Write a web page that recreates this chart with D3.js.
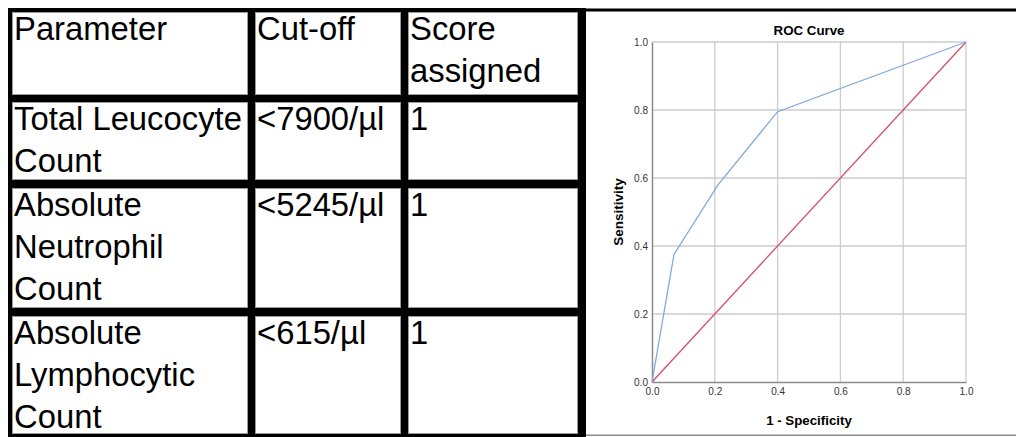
<!DOCTYPE html>
<html>
<head>
<meta charset="utf-8">
<script src="https://cdn.jsdelivr.net/npm/d3@7"></script>
<style>
    html, body { margin: 0; padding: 0; background: #fff; }
    svg { display: block; }
</style>
</head>
<body>
<script>
// table content
var headers = [['Parameter'], ['Cut-off'], ['Score', 'assigned']];
var parameters = [['Total Leucocyte', 'Count'], ['Absolute', 'Neutrophil', 'Count'], ['Absolute', 'Lymphocytic', 'Count']];
var cutoffs = ['<7900/\u00b5l', '<5245/\u00b5l', '<615/\u00b5l'];
var scores = ['1', '1', '1'];

// ROC curve values
var fpr = [0, 0.07, 0.21, 0.40, 1.0];
var tpr = [0, 0.375, 0.58, 0.795, 1.0];
var refFpr = [0, 1];
var refTpr = [0, 1];
var ticks = [0, 0.2, 0.4, 0.6, 0.8, 1.0];

var W = 1016, H = 437;

var svg = d3.select('body')
            .append('svg')
            .attr('width', W)
            .attr('height', H);

svg.append('rect').attr('width', W).attr('height', H).attr('fill', '#fff');

// ---- table ----
// vertical borders: [x, thickness]
var colLines = [[8, 4], [248, 7], [401, 7], [578, 8]];
// horizontal borders: [y, thickness]
var rowLines = [[8, 4], [95, 7], [180, 8], [308, 8], [434, 3]];
var textX = [14, 257, 410];
var lineH = 42;

var table = svg.append('g').attr('class', 'table');

// thin grey inner cell outlines
for (var r = 0; r < rowLines.length - 1; r++) {
    for (var c = 0; c < colLines.length - 1; c++) {
        var x0 = colLines[c][0] + colLines[c][1];
        var x1 = colLines[c + 1][0];
        var y0 = rowLines[r][0] + rowLines[r][1];
        var y1 = rowLines[r + 1][0];
        table.append('rect')
             .attr('x', x0 + 0.5).attr('y', y0 + 0.5)
             .attr('width', x1 - x0 - 1).attr('height', y1 - y0 - 1)
             .attr('fill', 'none')
             .attr('stroke', '#9a9a9a')
             .attr('stroke-width', 1);
    }
}

table.selectAll('rect.v')
     .data(colLines)
     .enter().append('rect')
     .attr('class', 'v')
     .attr('x', function (d) { return d[0]; })
     .attr('y', 8)
     .attr('width', function (d) { return d[1]; })
     .attr('height', H - 8)
     .attr('fill', '#000');

table.selectAll('rect.h')
     .data(rowLines)
     .enter().append('rect')
     .attr('class', 'h')
     .attr('x', 8)
     .attr('y', function (d) { return d[0]; })
     .attr('width', 578 + 8 - 8)
     .attr('height', function (d) { return d[1]; })
     .attr('fill', '#000');

// line across the top of the chart panel and the grey line at the bottom
svg.append('rect').attr('x', 586).attr('y', 8.5).attr('width', W - 586).attr('height', 3).attr('fill', '#000');
svg.append('rect').attr('x', 586).attr('y', 434.5).attr('width', W - 586).attr('height', 1.5).attr('fill', '#8c8c8c');

var rows = [headers].concat(parameters.map(function (p, i) {
    return [p, [cutoffs[i]], [scores[i]]];
}));

rows.forEach(function (row, r) {
    var top = rowLines[r][0] + rowLines[r][1];
    row.forEach(function (lines, c) {
        table.selectAll(null)
             .data(lines)
             .enter().append('text')
             .attr('x', textX[c])
             .attr('y', function (d, i) { return top + 28 + i * lineH; })
             .attr('font-family', 'Liberation Sans, Arial, sans-serif')
             .attr('font-size', 32.8)
             .attr('fill', '#000')
             .text(function (d) { return d; });
    });
});

// ---- ROC chart ----
var x = d3.scaleLinear().domain([0, 1]).range([652, 966]);
var y = d3.scaleLinear().domain([0, 1]).range([382, 42]);

var chart = svg.append('g').attr('class', 'chart');
var font = 'Liberation Sans, Arial, sans-serif';

chart.selectAll('line.gx')
     .data(ticks.slice(1))
     .enter().append('line')
     .attr('x1', function (d) { return x(d); })
     .attr('x2', function (d) { return x(d); })
     .attr('y1', y(0)).attr('y2', y(1))
     .attr('stroke', '#cdcdcd').attr('stroke-width', 1.3);

chart.selectAll('line.gy')
     .data(ticks.slice(1))
     .enter().append('line')
     .attr('y1', function (d) { return y(d); })
     .attr('y2', function (d) { return y(d); })
     .attr('x1', x(0)).attr('x2', x(1))
     .attr('stroke', '#cdcdcd').attr('stroke-width', 1.3);

var xAxis = d3.axisBottom(x).tickValues(ticks).tickSize(0).tickPadding(6).tickFormat(d3.format('.1f'));
var yAxis = d3.axisLeft(y).tickValues(ticks).tickSize(0).tickPadding(4).tickFormat(d3.format('.1f'));

var gx = chart.append('g').attr('transform', 'translate(0,' + y(0) + ')').call(xAxis);
var gy = chart.append('g').attr('transform', 'translate(' + x(0) + ',0)').call(yAxis);

[gx, gy].forEach(function (g) {
    g.select('.domain').attr('stroke', '#8a8a8a').attr('stroke-width', 1.5);
    g.selectAll('text').attr('font-family', font).attr('font-size', 10).attr('fill', '#333');
});

var line = d3.line()
             .x(function (d) { return x(d[0]); })
             .y(function (d) { return y(d[1]); });

chart.append('path')
     .datum(d3.zip(refFpr, refTpr))
     .attr('d', line)
     .attr('fill', 'none')
     .attr('stroke', '#d2506c')
     .attr('stroke-width', 1.3);

chart.append('path')
     .datum(d3.zip(fpr, tpr))
     .attr('d', line)
     .attr('fill', 'none')
     .attr('stroke', '#80a9de')
     .attr('stroke-width', 1.3);

chart.append('text')
     .attr('x', (x(0) + x(1)) / 2)
     .attr('y', 35)
     .attr('text-anchor', 'middle')
     .attr('font-family', font)
     .attr('font-weight', 'bold')
     .attr('font-size', 13.3)
     .text('ROC Curve');

chart.append('text')
     .attr('x', (x(0) + x(1)) / 2)
     .attr('y', 425)
     .attr('text-anchor', 'middle')
     .attr('font-family', font)
     .attr('font-weight', 'bold')
     .attr('font-size', 13.3)
     .text('1 - Specificity');

chart.append('text')
     .attr('transform', 'translate(623,' + (y(0) + y(1)) / 2 + ') rotate(-90)')
     .attr('text-anchor', 'middle')
     .attr('font-family', font)
     .attr('font-weight', 'bold')
     .attr('font-size', 13.5)
     .text('Sensitivity');
</script>
</body>
</html>
